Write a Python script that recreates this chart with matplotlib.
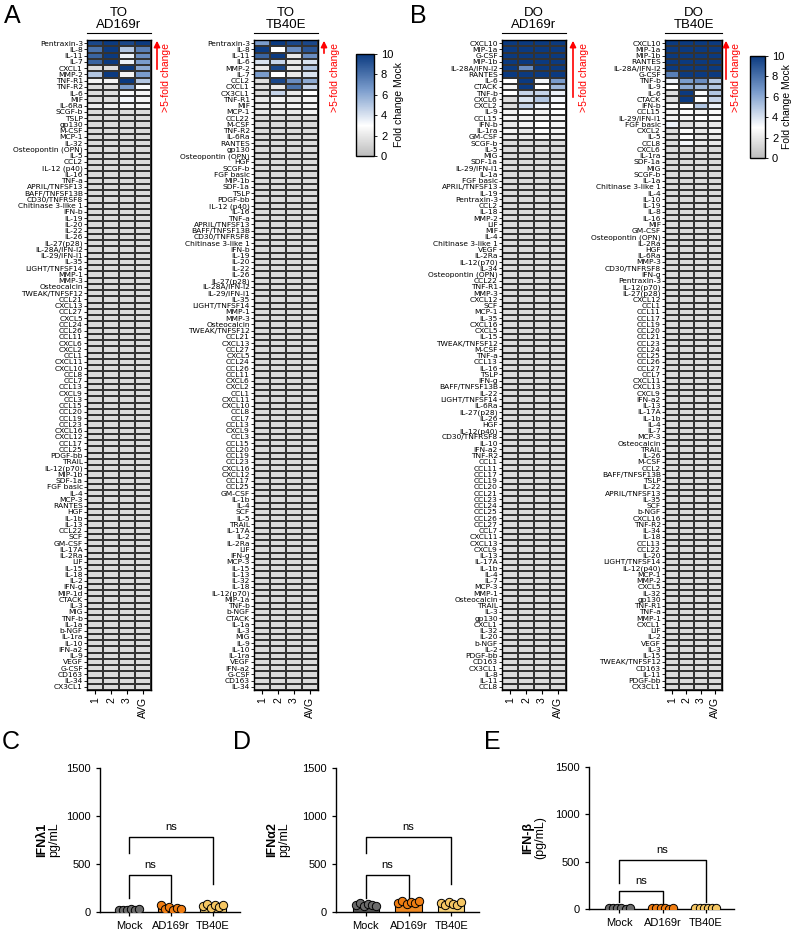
import numpy as np
import matplotlib
matplotlib.use('Agg')
import matplotlib.pyplot as plt
from matplotlib.colors import LinearSegmentedColormap, Normalize
from matplotlib.cm import ScalarMappable
from matplotlib.lines import Line2D
from matplotlib.patches import FancyArrowPatch

plt.rcParams['font.family'] = ['Liberation Sans', 'DejaVu Sans']

# ---------------- heatmap data ----------------
cols = ['1', '2', '3', 'AVG']
bg = 1.4  # typical fold change of the unchanged rows

a1_labels = ['Pentraxin-3', 'IL-8', 'IL-11', 'IL-7', 'CXCL1', 'MMP-2', 'TNF-R1', 'TNF-R2', 'IL-6', 'MIF',
             'IL-6Ra', 'SCGF-b', 'TSLP', 'gp130', 'M-CSF', 'MCP-1', 'IL-32', 'Osteopontin (OPN)', 'IL-5',
             'CCL2', 'IL-12 (p40)', 'IL-16', 'TNF-a', 'APRIL/TNFSF13', 'BAFF/TNFSF13B', 'CD30/TNFRSF8',
             'Chitinase 3-like 1', 'IFN-b', 'IL-19', 'IL-20', 'IL-22', 'IL-26', 'IL-27(p28)', 'IL-28A/IFN-l2',
             'IL-29/IFN-l1', 'IL-35', 'LIGHT/TNFSF14', 'MMP-1', 'MMP-3', 'Osteocalcin', 'TWEAK/TNFSF12',
             'CCL21', 'CXCL13', 'CCL27', 'CXCL5', 'CCL24', 'CCL26', 'CCL11', 'CXCL6', 'CXCL2', 'CCL1',
             'CXCL11', 'CXCL10', 'CCL8', 'CCL7', 'CCL13', 'CXCL9', 'CCL3', 'CCL15', 'CCL20', 'CCL19',
             'CCL23', 'CXCL16', 'CXCL12', 'CCL17', 'CCL25', 'PDGF-bb', 'TRAIL', 'IL-12(p70)', 'MIP-1b',
             'SDF-1a', 'FGF basic', 'IL-4', 'MCP-3', 'RANTES', 'HGF', 'IL-1b', 'IL-13', 'CCL22', 'SCF',
             'GM-CSF', 'IL-17A', 'IL-2Ra', 'LIF', 'IL-15', 'IL-18', 'IL-2', 'IFN-g', 'MIP-1d', 'CTACK',
             'IL-3', 'MIG', 'TNF-b', 'IL-1a', 'b-NGF', 'IL-1ra', 'IL-10', 'IFN-a2', 'IL-9', 'VEGF', 'G-CSF',
             'CD163', 'IL-34', 'CX3CL1']
a1_top = [[9.5, 10, 9.5, 10], [8, 10, 5, 7.5], [8.5, 10, 3.5, 7], [8.5, 10, 3.5, 6.5],
          [1.5, 1.5, 10, 6], [5, 10, 2.5, 6.5], [2.5, 2.5, 10, 5], [1.5, 1.5, 6.5, 3.2],
          [1.5, 1.5, 3.2, 2.5], [1.5, 1.5, 3.3, 2.5], [2.2, 2.2, 2.5, 2.5]]

a2_labels = ['Pentraxin-3', 'IL-8', 'IL-11', 'IL-6', 'MMP-2', 'IL-7', 'CCL2', 'CXCL1', 'CX3CL1', 'TNF-R1',
             'MIF', 'MCP-1', 'CCL22', 'M-CSF', 'TNF-R2', 'IL-6Ra', 'RANTES', 'gp130', 'Osteopontin (OPN)',
             'HGF', 'SCGF-b', 'FGF basic', 'MIP-1b', 'SDF-1a', 'TSLP', 'PDGF-bb', 'IL-12 (p40)', 'IL-16',
             'TNF-a', 'APRIL/TNFSF13', 'BAFF/TNFSF13B', 'CD30/TNFRSF8', 'Chitinase 3-like 1', 'IFN-b',
             'IL-19', 'IL-20', 'IL-22', 'IL-26', 'IL-27(p28)', 'IL-28A/IFN-l2', 'IL-29/IFN-l1', 'IL-35',
             'LIGHT/TNFSF14', 'MMP-1', 'MMP-3', 'Osteocalcin', 'TWEAK/TNFSF12', 'CCL21', 'CXCL13', 'CCL27',
             'CXCL5', 'CCL24', 'CCL26', 'CCL11', 'CXCL6', 'CXCL2', 'CCL1', 'CXCL11', 'CXCL10', 'CCL8', 'CCL7',
             'CCL13', 'CXCL9', 'CCL3', 'CCL15', 'CCL20', 'CCL19', 'CCL23', 'CXCL16', 'CXCL12', 'CCL17',
             'CCL25', 'GM-CSF', 'IL-1b', 'IL-4', 'SCF', 'IL-5', 'TRAIL', 'IL-17A', 'IL-2', 'IL-2Ra', 'LIF',
             'IFN-g', 'MCP-3', 'IL-15', 'IL-13', 'IL-32', 'IL-18', 'IL-12(p70)', 'MIP-1a', 'TNF-b', 'b-NGF',
             'CTACK', 'IL-1a', 'IL-3', 'MIG', 'IL-9', 'IL-10', 'IL-1ra', 'VEGF', 'IFN-a2', 'G-CSF', 'CD163',
             'IL-34']
a2_top = [[6.5, 10, 9.5, 9.5], [10, 3, 7, 9], [8.5, 10, 2, 7], [4, 4.5, 2, 4],
          [2, 9.5, 2, 5], [6.5, 3, 2, 4], [1.5, 9.5, 7, 6], [1.5, 2, 8, 4.5],
          [1.5, 4.5, 2, 3], [2, 2.5, 2, 2.5], [2, 2, 2.5, 2.5], [2, 2, 2, 2.5]]

b1_labels = ['CXCL10', 'MIP-1a', 'G-CSF', 'MIP-1b', 'IL-28A/IFN-l2', 'RANTES', 'IL-6', 'CTACK', 'TNF-b',
             'CXCL6', 'CXCL2', 'IL-9', 'CCL15', 'IFN-b', 'IL-1ra', 'GM-CSF', 'SCGF-b', 'IL-5', 'MIG', 'SDF-1a',
             'IL-29/IFN-l1', 'IL-1a', 'FGF basic', 'APRIL/TNFSF13', 'IL-19', 'Pentraxin-3', 'CCL2', 'IL-18',
             'MMP-2', 'LIF', 'MIF', 'IL-4', 'Chitinase 3-like 1', 'VEGF', 'IL-2Ra', 'IL-12(p70)', 'IL-34',
             'Osteopontin (OPN)', 'CCL22', 'TNF-R1', 'MMP-3', 'CXCL12', 'SCF', 'MCP-1', 'IL-35', 'CXCL16',
             'CXCL5', 'IL-15', 'TWEAK/TNFSF12', 'M-CSF', 'TNF-a', 'CCL13', 'IL-16', 'TSLP', 'IFN-g',
             'BAFF/TNFSF13B', 'IL-22', 'LIGHT/TNFSF14', 'IL-6Ra', 'IL-27(p28)', 'IL-26', 'HGF', 'IL-12(p40)',
             'CD30/TNFRSF8', 'IL-10', 'IFN-a2', 'TNF-R2', 'CCL1', 'CCL11', 'CCL17', 'CCL19', 'CCL20', 'CCL21',
             'CCL23', 'CCL24', 'CCL25', 'CCL26', 'CCL27', 'CCL7', 'CXCL11', 'CXCL13', 'CXCL9', 'IL-13',
             'IL-17A', 'IL-1b', 'IL-4', 'IL-7', 'MCP-3', 'MMP-1', 'Osteocalcin', 'TRAIL', 'IL-3', 'gp130',
             'CXCL1', 'IL-32', 'IL-20', 'b-NGF', 'IL-2', 'PDGF-bb', 'CD163', 'CX3CL1', 'IL-8', 'IL-11', 'CCL8']
b1_top = [[10, 10, 10, 10], [10, 10, 10, 10], [10, 10, 10, 10], [10, 10, 10, 10],
          [10, 7, 10, 10], [10, 10, 10, 10], [3, 10, 3.3, 6.5], [2.5, 10, 3, 5.5],
          [3, 4.5, 4.5, 3.5], [1.5, 4, 5, 3.3], [1.5, 4.5, 3.5, 3], [2.5, 3, 2.5, 3],
          [2.5, 2.5, 2.5, 2.5], [2, 2.5, 3, 2.5], [2.5, 2, 3, 2.5], [2, 2, 2.5, 2.2]]

b2_labels = ['CXCL10', 'MIP-1a', 'MIP-1b', 'RANTES', 'IL-28A/IFN-l2', 'G-CSF', 'TNF-b', 'IL-9', 'IL-6',
             'CTACK', 'IFN-b', 'CCL15', 'IL-29/IFN-l1', 'FGF basic', 'CXCL2', 'IL-5', 'CCL8', 'CXCL6', 'IL-1ra',
             'SDF-1a', 'MIG', 'SCGF-b', 'IL-1a', 'Chitinase 3-like 1', 'IL-4', 'IL-10', 'IL-19', 'IL-8',
             'IL-16', 'MIF', 'GM-CSF', 'Osteopontin (OPN)', 'IL-2Ra', 'HGF', 'IL-6Ra', 'MMP-3', 'CD30/TNFRSF8',
             'IFN-g', 'Pentraxin-3', 'IL-12(p70)', 'IL-27(p28)', 'CXCL12', 'CCL1', 'CCL11', 'CCL17', 'CCL19',
             'CCL20', 'CCL21', 'CCL23', 'CCL24', 'CCL25', 'CCL26', 'CCL27', 'CCL7', 'CXCL11', 'CXCL13',
             'CXCL9', 'IFN-a2', 'IL-13', 'IL-17A', 'IL-1b', 'IL-4', 'IL-7', 'MCP-3', 'Osteocalcin', 'TRAIL',
             'IL-26', 'M-CSF', 'CCL2', 'BAFF/TNFSF13B', 'TSLP', 'IL-22', 'APRIL/TNFSF13', 'IL-35', 'SCF',
             'b-NGF', 'CXCL16', 'TNF-R2', 'IL-34', 'IL-18', 'CCL13', 'CCL22', 'IL-20', 'LIGHT/TNFSF14',
             'IL-12(p40)', 'MCP-1', 'MMP-2', 'CXCL5', 'IL-32', 'gp130', 'TNF-R1', 'TNF-a', 'MMP-1', 'CXCL1',
             'LIF', 'IL-2', 'VEGF', 'IL-3', 'IL-15', 'TWEAK/TNFSF12', 'CD163', 'IL-11', 'PDGF-bb', 'CX3CL1']
b2_top = [[10, 10, 10, 10], [10, 10, 10, 10], [10, 10, 10, 10], [10, 10, 10, 10],
          [10, 10, 10, 10], [7.5, 10, 10, 10], [3.5, 6.5, 7, 5], [3, 6, 5.5, 5],
          [1.5, 10, 3.2, 5], [1.5, 10, 3, 4.5], [2.5, 3, 5, 3.5], [2.5, 3, 2.5, 2.8],
          [2.5, 2.5, 3, 2.8], [3.5, 1.5, 2, 2], [1.5, 3, 2, 2.5], [1.5, 3, 2, 2], [1.5, 3.3, 2, 2]]

# ---------------- cytokine ELISA data (pg/mL) ----------------
groups = ['Mock', 'AD169r', 'TB40E']
ifnl1_mock = [20, 25, 18, 30, 22, 28]
ifnl1_ad = [75, 30, 55, 20, 45, 35]
ifnl1_tb = [60, 85, 45, 70, 55, 75]
ifna2_mock = [70, 95, 60, 85, 75, 65]
ifna2_ad = [95, 115, 80, 105, 90, 110]
ifna2_tb = [90, 70, 105, 85, 75, 100]
ifnb_mock = [10, 15, 8, 12, 5, 10]
ifnb_ad = [12, 8, 15, 10, 5, 9]
ifnb_tb = [10, 12, 8, 15, 6, 10]

W, H = 794, 932
fig = plt.figure(figsize=(W / 100, H / 100), dpi=100)


def add_ax(x0, y0, x1, y1):
    return fig.add_axes([x0 / W, 1 - y1 / H, (x1 - x0) / W, (y1 - y0) / H])


cmap = LinearSegmentedColormap.from_list(
    'fc', [(0, '#bcbcbc'), (0.3, '#ffffff'), (0.65, '#7a9ccc'), (1, '#0b3a80')])
norm = Normalize(0, 10)

row_h = 6.25
top_y = 40


def heatmap(x0, x1, labels, top, title, arrow_x, arrow_end, text_x):
    n = len(labels)
    data = np.full((n, 4), bg)
    data[:len(top)] = np.array(top)
    ax = add_ax(x0, top_y, x1, top_y + n * row_h)
    ax.pcolormesh(np.arange(5), np.arange(n + 1), data, cmap=cmap, norm=norm,
                  edgecolors='#333333', linewidth=0.35)
    ax.set_xlim(0, 4)
    ax.set_ylim(n, 0)
    ax.set_yticks(np.arange(n) + 0.5)
    ax.set_yticklabels(labels, fontsize=5.4, family='DejaVu Sans')
    ax.set_xticks(np.arange(4) + 0.5)
    ax.set_xticklabels(cols, rotation=90, fontsize=7.5)
    ax.tick_params(axis='y', length=2, width=0.6, pad=1)
    ax.tick_params(axis='x', length=3, width=0.8, pad=2)
    for s in ax.spines.values():
        s.set_linewidth(1.0)
    xc = (x0 + x1) / 2
    fig.text(xc / W, 1 - 19 / H, title, ha='center', va='center', fontsize=9.5, linespacing=1.05)
    fig.add_artist(Line2D([x0 / W, x1 / W], [1 - 33 / H] * 2, color='k', lw=0.8))
    fig.add_artist(FancyArrowPatch((arrow_x / W, 1 - arrow_end / H), (arrow_x / W, 1 - 38 / H),
                                   transform=fig.transFigure, arrowstyle='-|>', color='red',
                                   lw=1.2, mutation_scale=9))
    fig.text(text_x / W, 1 - 78 / H, '>5-fold change', rotation=90, color='red',
             fontsize=7.5, ha='center', va='center')


def colorbar(x0, x1, y0, y1, label_x):
    cax = add_ax(x0, y0, x1, y1)
    cb = fig.colorbar(ScalarMappable(norm=norm, cmap=cmap), cax=cax, ticks=[0, 2, 4, 6, 8, 10])
    cb.outline.set_linewidth(1.0)
    cax.tick_params(labelsize=8, length=2, width=0.6, pad=3)
    fig.text(label_x / W, 1 - (y0 + y1) / 2 / H, 'Fold change Mock', rotation=90,
             fontsize=7.5, ha='center', va='center')


heatmap(87, 151, a1_labels, a1_top, 'TO\nAD169r', 157, 72, 166)
heatmap(254, 318, a2_labels, a2_top, 'TO\nTB40E', 324, 56, 335)
colorbar(356, 374, 54, 156, 399)
heatmap(502, 566, b1_labels, b1_top, 'DO\nAD169r', 573, 100, 584)
heatmap(665, 722, b2_labels, b2_top, 'DO\nTB40E', 726, 82, 736)
colorbar(750, 765, 56, 158, 787)

# panel letters
for letter, x, y in [('A', 4, 16), ('B', 410, 16), ('C', 2, 742), ('D', 233, 742), ('E', 484, 742)]:
    fig.text(x / W, 1 - y / H, letter, fontsize=18, ha='left', va='center')

# ---------------- bar panels ----------------
fills = ['#5a5a5a', '#f08a24', '#f8d47c']
dots = ['#6b6b6b', '#f07d12', '#f6c763']


def bar_panel(x0, x1, y0, y1, vals, label_b, label_n, lab_x, brackets):
    ax = add_ax(x0, y0, x1, y1)
    for i, v in enumerate(vals):
        ax.bar(i, np.mean(v), width=0.62, color=fills[i], edgecolor='k', linewidth=0.8, zorder=2)
        offs = np.linspace(-0.24, 0.24, len(v))
        ax.scatter(i + offs, v, s=36, color=dots[i], edgecolor='k', linewidth=0.7, zorder=3)
    ax.set_xlim(-0.7, 2.65)
    ax.set_ylim(0, 1500)
    ax.set_yticks([0, 500, 1000, 1500])
    ax.set_xticks(range(3))
    ax.set_xticklabels(groups, fontsize=8)
    ax.tick_params(labelsize=8, length=3, width=0.9)
    for s in ['top', 'right']:
        ax.spines[s].set_visible(False)
    for s in ['left', 'bottom']:
        ax.spines[s].set_linewidth(1.0)
    for (a, b, top, la, lb) in brackets:
        ax.plot([a, a, b, b], [la, top, top, lb], color='k', lw=1.0, clip_on=False)
        ax.text((a + b) / 2, top + 50, 'ns', ha='center', va='bottom', fontsize=8)
    yc = 1 - (y0 + y1) / 2 / H
    fig.text(lab_x / W, yc, label_b, rotation=90, fontsize=9, fontweight='bold', ha='center', va='center')
    fig.text((lab_x + 12) / W, yc, label_n, rotation=90, fontsize=9, ha='center', va='center')


bar_panel(100, 240, 768, 912, [ifnl1_mock, ifnl1_ad, ifnl1_tb], 'IFN\u03bb1', 'pg/mL', 42,
          [(0, 1, 390, 150, 105), (0, 2, 780, 615, 290)])
bar_panel(336, 479, 768, 912, [ifna2_mock, ifna2_ad, ifna2_tb], 'IFN\u03b12', 'pg/mL', 272,
          [(0, 1, 390, 150, 130), (0, 2, 780, 615, 290)])
bar_panel(589, 734, 767, 909, [ifnb_mock, ifnb_ad, ifnb_tb], 'IFN-\u03b2', '(pg/mL)', 528,
          [(0, 1, 190, 75, 25), (0, 2, 520, 270, 75)])

fig.savefig('out.png', dpi=100)
